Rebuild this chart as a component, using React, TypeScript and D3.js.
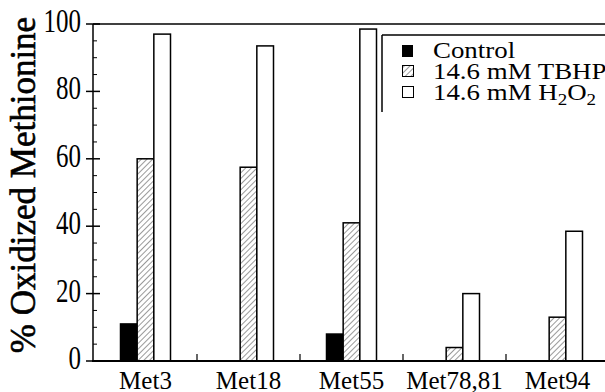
import React from "react";
import * as d3 from "d3";

const categories = ["Met3", "Met18", "Met55", "Met78,81", "Met94"];
const controlValues = [11, 0, 8, 0, 0];
const tbhpValues = [60, 57.5, 41, 4, 13];
const h2o2Values = [97, 93.5, 98.5, 20, 38.5];
const yTicks = [0, 20, 40, 60, 80, 100];
const seriesNames = ["Control", "TBHP", "H2O2"];

const W = 605;
const H = 392;
const serif = { fontFamily: "Liberation Serif, Times New Roman, DejaVu Serif, serif" };

const App = () => {
  const x = d3.scaleBand().domain(categories).range([94, 609]).padding(0);
  const inner = d3.scaleBand().domain(seriesNames).range([-25, 25]).padding(0);
  const y = d3.scaleLinear().domain([0, 100]).range([361, 24]);

  const series = [
    { name: "Control", values: controlValues, fill: "#000" },
    { name: "TBHP", values: tbhpValues, fill: "url(#hatch)" },
    { name: "H2O2", values: h2o2Values, fill: "#fff" },
  ];

  const minor = d3.range(0, 101, 5).filter(v => v % 20 !== 0);
  const bounds = categories.slice(1).map(c => x(c) as number);

  return (
    <svg width={W} height={H} style={{ position: "absolute", left: 0, top: 0, background: "#fff" }}>
      <defs>
        <pattern id="hatch" patternUnits="userSpaceOnUse" width="4" height="4" patternTransform="rotate(45)">
          <rect width="4" height="4" fill="#fff" />
          <line x1="0" y1="0" x2="0" y2="4" stroke="#555" strokeWidth="1.2" />
        </pattern>
      </defs>

      {/* bars */}
      {series.map(s =>
        s.values.map((v, i) =>
          v > 0 ? (
            <rect
              key={s.name + i}
              x={(x(categories[i]) as number) + x.bandwidth() / 2 + (inner(s.name) as number)}
              y={y(v)}
              width={inner.bandwidth()}
              height={y(0) - y(v)}
              fill={s.fill}
              stroke="#000"
              strokeWidth={1.5}
            />
          ) : null
        )
      )}

      {/* frame */}
      <line x1={93} x2={605} y1={24} y2={24} stroke="#000" strokeWidth={1.5} />
      <line x1={93} x2={93} y1={24} y2={361} stroke="#000" strokeWidth={1.5} />
      <line x1={92} x2={605} y1={361} y2={361} stroke="#000" strokeWidth={2.2} />

      {/* y ticks */}
      {yTicks.map(t => (
        <g key={t}>
          <line x1={86} x2={100} y1={y(t)} y2={y(t)} stroke="#000" strokeWidth={1.5} />
          <text
            transform={`translate(81,${y(t) + 8}) scale(1,1.35)`}
            textAnchor="end"
            style={serif}
            fontSize={25}
          >
            {t}
          </text>
        </g>
      ))}
      {minor.map(t => (
        <line key={t} x1={93} x2={97} y1={y(t)} y2={y(t)} stroke="#000" strokeWidth={1} />
      ))}

      {/* x ticks */}
      {bounds.map((b, i) => (
        <line key={i} x1={b} x2={b} y1={361} y2={354} stroke="#000" strokeWidth={1.2} />
      ))}
      {categories.map(c => (
        <text
          key={c}
          x={(x(c) as number) + x.bandwidth() / 2}
          y={389}
          textAnchor="middle"
          style={serif}
          fontSize={25}
        >
          {c}
        </text>
      ))}

      {/* y title */}
      <text
        transform="translate(35,185) rotate(-90)"
        textAnchor="middle"
        style={serif}
        fontSize={35}
        stroke="#000"
        strokeWidth={0.6}
      >
        % Oxidized Methionine
      </text>

      {/* legend */}
      <g>
        <line x1={382} x2={605} y1={35} y2={35} stroke="#000" strokeWidth={1.5} />
        <line x1={382} x2={382} y1={35} y2={112} stroke="#000" strokeWidth={1.5} />
        <rect x={402} y={45} width={11} height={12} fill="#000" />
        <rect x={402.5} y={65.5} width={11} height={11} fill="url(#hatch)" stroke="#000" strokeWidth={1} />
        <rect x={402.5} y={86.5} width={11} height={11} fill="#fff" stroke="#000" strokeWidth={1} />
        <g transform="translate(433,0) scale(1.12,1)">
          <text x={0} y={58} style={serif} fontSize={24}>Control</text>
          <text x={0} y={79} style={serif} fontSize={24}>14.6 mM TBHP</text>
          <text x={0} y={100} style={serif} fontSize={24}>
            14.6 mM H<tspan fontSize={17} dy={5}>2</tspan>
            <tspan dy={-5}>O</tspan>
            <tspan fontSize={17} dy={5}>2</tspan>
          </text>
        </g>
      </g>
    </svg>
  );
};

export default App;
